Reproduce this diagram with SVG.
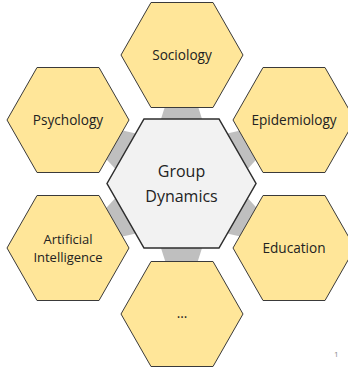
<svg xmlns="http://www.w3.org/2000/svg" xmlns:xlink="http://www.w3.org/1999/xlink" width="348" height="369" viewBox="0 0 348 369">
  <style>
    .outer { fill: #FFE699; stroke: #3a3a3a; stroke-width: 1; }
    .hub { fill: #F2F2F2; stroke: #2e2e2e; stroke-width: 1.5; }
    .link { fill: #BFBFBF; }
    .lbl { font-family: "Open Sans", "Noto Sans", "DejaVu Sans", sans-serif; font-size: 13.6px; fill: #222; text-anchor: middle; }
    .lbl2 { font-family: "Open Sans", "Noto Sans", "DejaVu Sans", sans-serif; font-size: 13px; fill: #222; text-anchor: middle; }
    .hubLbl { font-family: "Open Sans", "Noto Sans", "DejaVu Sans", sans-serif; font-size: 16px; fill: #222; text-anchor: middle; }
    .pg { font-family: "Open Sans", "Noto Sans", sans-serif; font-size: 8px; fill: #8c8c8c; }
  </style>
  <defs>
    <!-- outer hexagon, centred on the origin -->
    <path id="hexOuter" d="M -61 0 L -31 -52.5 L 31 -52.5 L 61 0 L 31 52.5 L -31 52.5 Z"/>
    <!-- connector pointing up from the hub centre -->
    <polygon id="spoke" points="-22.6,-58 22.6,-58 14.3,-84 -14.3,-84"/>
  </defs>

  <rect width="348" height="369" fill="#ffffff"/>

  <g id="connectors" class="link">
    <use xlink:href="#spoke" transform="translate(181.5 183.5) rotate(0)"/>
    <use xlink:href="#spoke" transform="translate(181.5 183.5) rotate(60)"/>
    <use xlink:href="#spoke" transform="translate(181.5 183.5) rotate(120)"/>
    <use xlink:href="#spoke" transform="translate(181.5 183.5) rotate(180)"/>
    <use xlink:href="#spoke" transform="translate(181.5 183.5) rotate(240)"/>
    <use xlink:href="#spoke" transform="translate(181.5 183.5) rotate(300)"/>
  </g>

  <g id="hub">
    <path class="hub" d="M 107 183.5 L 144 119 L 219 119 L 256 183.5 L 219 248 L 144 248 Z"/>
    <text class="hubLbl" x="181.5" y="177">Group</text>
    <text class="hubLbl" x="181.5" y="201.5">Dynamics</text>
  </g>

  <g id="sociology">
    <use xlink:href="#hexOuter" class="outer" x="182" y="55"/>
    <text class="lbl" x="182" y="60">Sociology</text>
  </g>

  <g id="psychology">
    <use xlink:href="#hexOuter" class="outer" x="68" y="120"/>
    <text class="lbl" x="68" y="125">Psychology</text>
  </g>

  <g id="epidemiology">
    <use xlink:href="#hexOuter" class="outer" x="294" y="120"/>
    <text class="lbl" x="294" y="125">Epidemiology</text>
  </g>

  <g id="artificial-intelligence">
    <use xlink:href="#hexOuter" class="outer" x="68" y="248"/>
    <text class="lbl2" x="68" y="244">Artificial</text>
    <text class="lbl2" x="68" y="262">Intelligence</text>
  </g>

  <g id="education">
    <use xlink:href="#hexOuter" class="outer" x="294" y="248"/>
    <text class="lbl" x="294" y="252.5">Education</text>
  </g>

  <g id="more">
    <use xlink:href="#hexOuter" class="outer" x="182" y="314"/>
    <text class="lbl" x="182" y="318">...</text>
  </g>

  <text class="pg" x="334" y="357">1</text>
</svg>
